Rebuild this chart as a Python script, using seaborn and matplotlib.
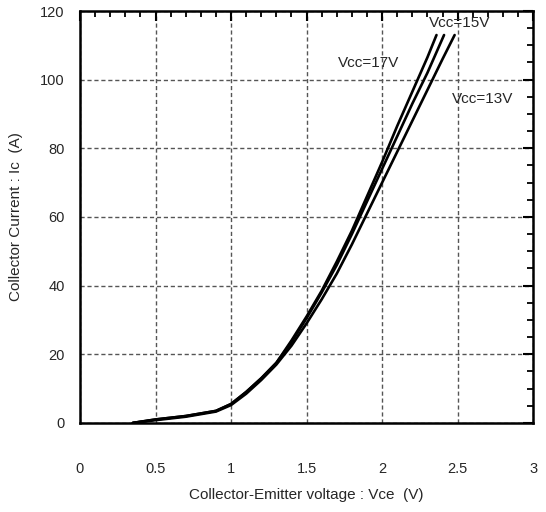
import pandas as pd
import matplotlib.pyplot as plt
from matplotlib.ticker import MultipleLocator
import seaborn as sns

# Ic-Vce curves (Vce in V, Ic in A)
vce_17 = [0.35, 0.5, 0.7, 0.9, 1.0, 1.1, 1.2, 1.3, 1.4, 1.5, 1.6, 1.7, 1.8, 1.9, 2.0, 2.1, 2.2, 2.3, 2.36]
ic_17 = [0, 1, 2, 3.5, 5.5, 9, 13, 17.5, 24, 31, 38.5, 47, 56, 66, 76, 86.5, 96.5, 106.5, 113]

vce_15 = [0.35, 0.5, 0.7, 0.9, 1.0, 1.1, 1.2, 1.3, 1.4, 1.5, 1.6, 1.7, 1.8, 1.9, 2.0, 2.1, 2.2, 2.3, 2.41]
ic_15 = [0, 1, 2, 3.5, 5.5, 9, 13, 17.5, 23.5, 30.5, 38, 46, 55, 64.5, 74, 83.5, 93, 102, 113]

vce_13 = [0.35, 0.5, 0.7, 0.9, 1.0, 1.1, 1.2, 1.3, 1.4, 1.5, 1.6, 1.7, 1.8, 1.9, 2.0, 2.1, 2.2, 2.3, 2.4, 2.48]
ic_13 = [0, 0.8, 1.8, 3.3, 5.2, 8.5, 12.5, 17, 22.5, 29, 36, 43.5, 52, 61, 70, 79, 88, 97, 106, 113]

series_names = ['Vcc=17V', 'Vcc=15V', 'Vcc=13V']

x_ticks = [0, 0.5, 1, 1.5, 2, 2.5, 3]
x_tick_labels = ['0', '0.5', '1', '1.5', '2', '2.5', '3']
y_ticks = [0, 20, 40, 60, 80, 100, 120]

df = pd.concat([
    pd.DataFrame({'Vce': vce_17, 'Ic': ic_17, 'Vcc': series_names[0]}),
    pd.DataFrame({'Vce': vce_15, 'Ic': ic_15, 'Vcc': series_names[1]}),
    pd.DataFrame({'Vce': vce_13, 'Ic': ic_13, 'Vcc': series_names[2]}),
])

sns.set_style('white')
plt.rcParams['font.family'] = ['Liberation Sans', 'DejaVu Sans']

fig = plt.figure(figsize=(5.46, 5.12), dpi=100)
ax = fig.add_axes([0.1465, 0.174, 0.83, 0.8045])

sns.lineplot(data=df, x='Vce', y='Ic', hue='Vcc', palette=['black'] * 3,
             estimator=None, sort=False, linewidth=1.9, legend=False, ax=ax)

ax.set_xlim(0, 3)
ax.set_ylim(0, 120)
ax.set_xticks(x_ticks)
ax.set_xticklabels(x_tick_labels)
ax.set_yticks(y_ticks)
ax.xaxis.set_minor_locator(MultipleLocator(0.1))
ax.yaxis.set_minor_locator(MultipleLocator(5))

ax.grid(True, which='major', color='#555555', linestyle=(0, (3, 2)), linewidth=1.0)
ax.tick_params(which='both', direction='in', top=True, right=True, color='black')
ax.tick_params(which='major', length=7, width=1.5, labelsize=10.5)
ax.tick_params(which='minor', length=4.5, width=1.3)
ax.tick_params(axis='x', which='major', pad=28)
ax.tick_params(axis='y', which='major', pad=11)

for sp in ax.spines.values():
    sp.set_color('black')
    sp.set_linewidth(1.8)

ax.set_xlabel('Collector-Emitter voltage : Vce  (V)', fontsize=11, labelpad=9)
ax.set_ylabel('Collector Current : Ic  (A)', fontsize=11, labelpad=12)

# curve labels
ax.text(2.31, 116.5, 'Vcc=15V', fontsize=11, va='center', ha='left')
ax.text(1.71, 104.8, 'Vcc=17V', fontsize=11, va='center', ha='left')
ax.text(2.46, 94.5, 'Vcc=13V', fontsize=11, va='center', ha='left')

fig.savefig('out.png', dpi=100)
